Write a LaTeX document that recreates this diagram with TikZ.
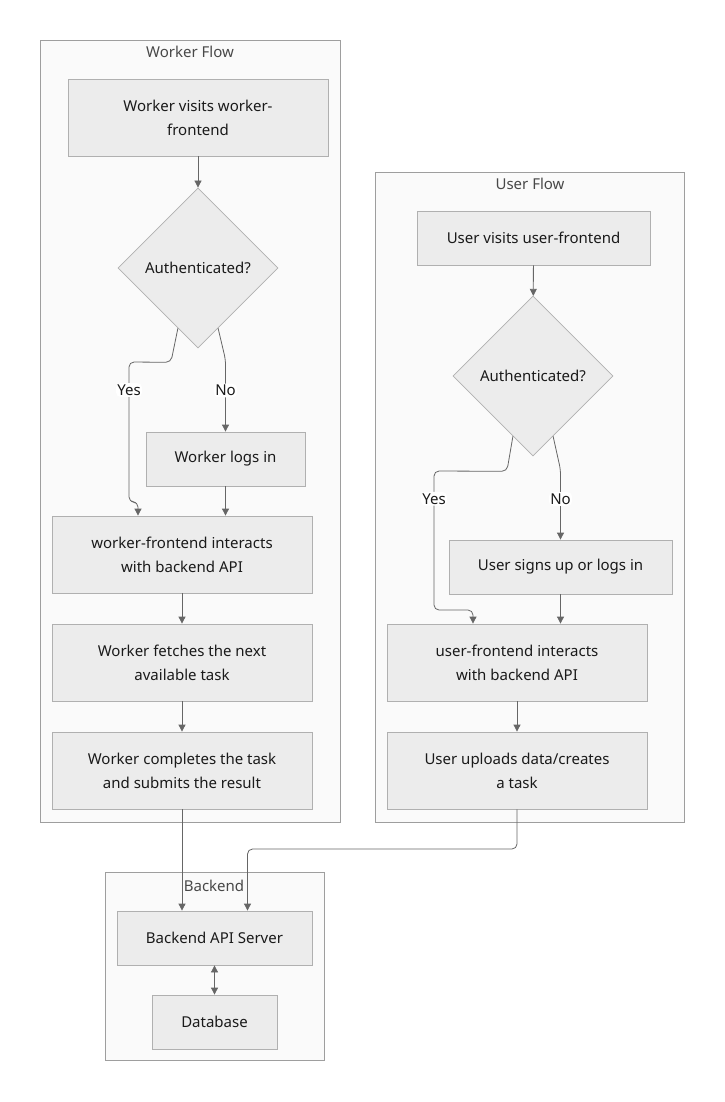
\documentclass[tikz,border=0pt]{standalone}
\usepackage{fontspec}
\setmainfont{Noto Sans}
\usetikzlibrary{shapes.geometric,arrows.meta,calc}
\definecolor{clusterfill}{HTML}{FAFAFA}
\definecolor{clusterline}{HTML}{9E9E9E}
\definecolor{boxfill}{HTML}{ECECEC}
\definecolor{boxline}{HTML}{B0B0B0}
\definecolor{linkcol}{HTML}{666666}
\definecolor{txtcol}{HTML}{1A1A1A}

\begin{document}
\begin{tikzpicture}[x=1pt, y=-1pt,
    cluster/.style={draw=clusterline, fill=clusterfill, line width=0.8pt},
    title/.style={text=txtcol!80, font=\fontsize{15}{18}\selectfont, inner sep=0pt},
    box/.style={draw=boxline, fill=boxfill, line width=0.8pt, rectangle, align=center, text=txtcol, font=\fontsize{15}{24}\selectfont, inner sep=0pt},
    wide/.style={box, minimum width=260pt, minimum height=77pt},
    narrow/.style={box, minimum height=54pt},
    decision/.style={draw=boxline, fill=boxfill, line width=0.8pt, diamond, aspect=1, minimum width=160pt, minimum height=160pt, inner sep=0pt, text=txtcol, font=\fontsize{15}{18}\selectfont},
    link/.style={draw=linkcol, line width=0.8pt, rounded corners=5pt, -{Triangle[width=7pt,length=7pt]}},
    lbl/.style={fill=white, inner sep=1.5pt, text=txtcol, font=\fontsize{15}{18}\selectfont}
]
\fill[white] (0,0) rectangle (724,1102);

% clusters
\draw[cluster] (40,40) rectangle (340,822);
\node[title] (wflow) at (190,52) {Worker Flow};
\draw[cluster] (375,172) rectangle (684,822);
\node[title] (uflow) at (530,184) {User Flow};
\draw[cluster] (105,872) rectangle (324,1060);
\node[title] (backend) at (214,886) {Backend};

% worker flow
\node[wide] (wvisit) at (198,117.5) {Worker visits worker-\\frontend};
\node[decision] (wauth) at (198,268) {Authenticated?};
\node[narrow, minimum width=159pt] (wlogin) at (225.5,459) {Worker logs in};
\node[wide] (wapi) at (182,554.5) {worker-frontend interacts\\with backend API};
\node[wide] (wfetch) at (182,662.5) {Worker fetches the next\\available task};
\node[wide] (wdone) at (182,770.5) {Worker completes the task\\and submits the result};

% user flow
\node[narrow, minimum width=233pt] (uvisit) at (533.5,238) {User visits user-frontend};
\node[decision] (uauth) at (533,376) {Authenticated?};
\node[narrow, minimum width=223pt] (ulogin) at (560.5,567) {User signs up or logs in};
\node[wide] (uapi) at (517,662.5) {user-frontend interacts\\with backend API};
\node[wide] (uup) at (517,770.5) {User uploads data/creates\\a task};

% backend
\node[narrow, minimum width=195pt] (api) at (214.5,938) {Backend API Server};
\node[narrow, minimum width=125pt] (db) at (214.5,1022) {Database};

% worker links
\draw[link] (wvisit) -- (wauth);
\draw[link] ($(wauth.south)!0.25!(wauth.west)$) -- ++(-7,34) -- (129,362)
    -- node[lbl, pos=0.2] {Yes} (129,502) -- (138,502) -- ([xshift=-44pt]wapi.north);
\draw[link] ($(wauth.south)!0.25!(wauth.east)$) -- ([yshift=72pt]wlogin.north)
    -- node[lbl, pos=0.43] {No} (wlogin.north);
\draw[link] (wlogin) -- (wlogin |- wapi.north);
\draw[link] (wapi) -- (wfetch);
\draw[link] (wfetch) -- (wdone);

% user links
\draw[link] (uvisit) -- (uauth);
\draw[link] ($(uauth.south)!0.25!(uauth.west)$) -- ++(-6,35) -- (434,471)
    -- node[lbl, pos=0.2] {Yes} (434,610) -- (473,610) -- ([xshift=-44pt]uapi.north);
\draw[link] ($(uauth.south)!0.25!(uauth.east)$) -- ([yshift=70pt]ulogin.north)
    -- node[lbl, pos=0.42] {No} (ulogin.north);
\draw[link] (ulogin) -- (ulogin |- uapi.north);
\draw[link] (uapi) -- (uup);

% to backend
\coordinate (bend) at (247.5,849);
\draw[link] (wdone) -- (wdone |- api.north);
\draw[link] (uup.south) |- (bend) -- ([xshift=33pt]api.north);
\draw[link, {Triangle[width=7pt,length=7pt]}-{Triangle[width=7pt,length=7pt]}] (api) -- (db);
\end{tikzpicture}
\end{document}
